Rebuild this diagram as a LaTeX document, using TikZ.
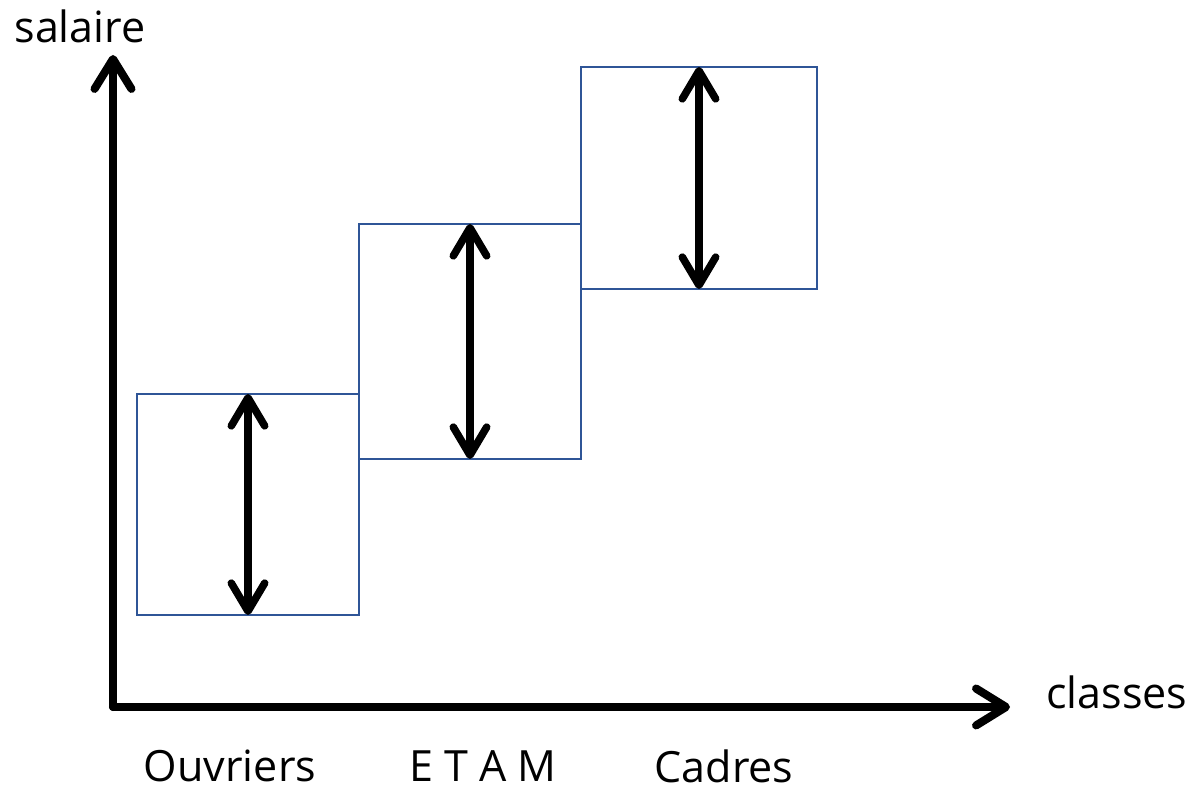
\documentclass[tikz,border=0pt]{standalone}
\usepackage{fontspec}
\setmainfont{Open Sans}
\usepackage{tikz}
\usetikzlibrary{
  arrows.meta,
  positioning
}
\definecolor{bandblue}{RGB}{47,85,151}
\definecolor{inkblack}{RGB}{0,0,0}
\tikzset{
  axis/.style={inkblack,line width=4.6pt,line cap=round,
    -{Straight Barb[length=17pt,width=21pt,line cap=round,line join=round]}},
  spread/.style={inkblack,line width=4.3pt,line cap=round,
    {Straight Barb[length=16pt,width=19pt,line cap=round,line join=round]}-{Straight Barb[length=16pt,width=19pt,line cap=round,line join=round]}},
  band/.style={draw=bandblue,line width=1.1pt,inner sep=0pt,outer sep=0pt},
  lbl/.style={font=\fontsize{24.5}{28}\selectfont,inner sep=0pt}
}
% band box with its spread arrow: name, left, bottom, right, top
\newcommand{\band}[5]{%
  \node[band,anchor=south west,minimum width={(#4-#2)*0.02cm},
    minimum height={(#5-#3)*0.02cm}] (#1) at (#2,#3) {};%
  \draw[spread] (#1.north) -- (#1.south);%
}

\begin{document}
\begin{tikzpicture}[x=0.02cm,y=0.02cm]
  \useasboundingbox (0,0) rectangle (1201,793);

  % axes
  \coordinate (origin) at (113,86);
  \coordinate (ytip) at (113,738);
  \coordinate (xtip) at (1010,86);
  \draw[axis] (origin) -- (ytip);
  \draw[axis] (origin) -- (xtip);
  \node[lbl] (salaire) at (80,767) {salaire};
  \node[lbl] (classes) at (1117,101) {classes};

  % one band per class
  \band{ouvriers}{137}{178}{359}{399}
  \band{etam}{359}{334}{581}{569}
  \band{cadres}{581}{504}{817}{726}

  \node[lbl] (ouvlbl) at (230,27) {Ouvriers};
  \node[lbl] (etamlbl) at (483,27) {E T A M};
  \node[lbl] (cadlbl) at (724,27) {Cadres};
\end{tikzpicture}
\end{document}
